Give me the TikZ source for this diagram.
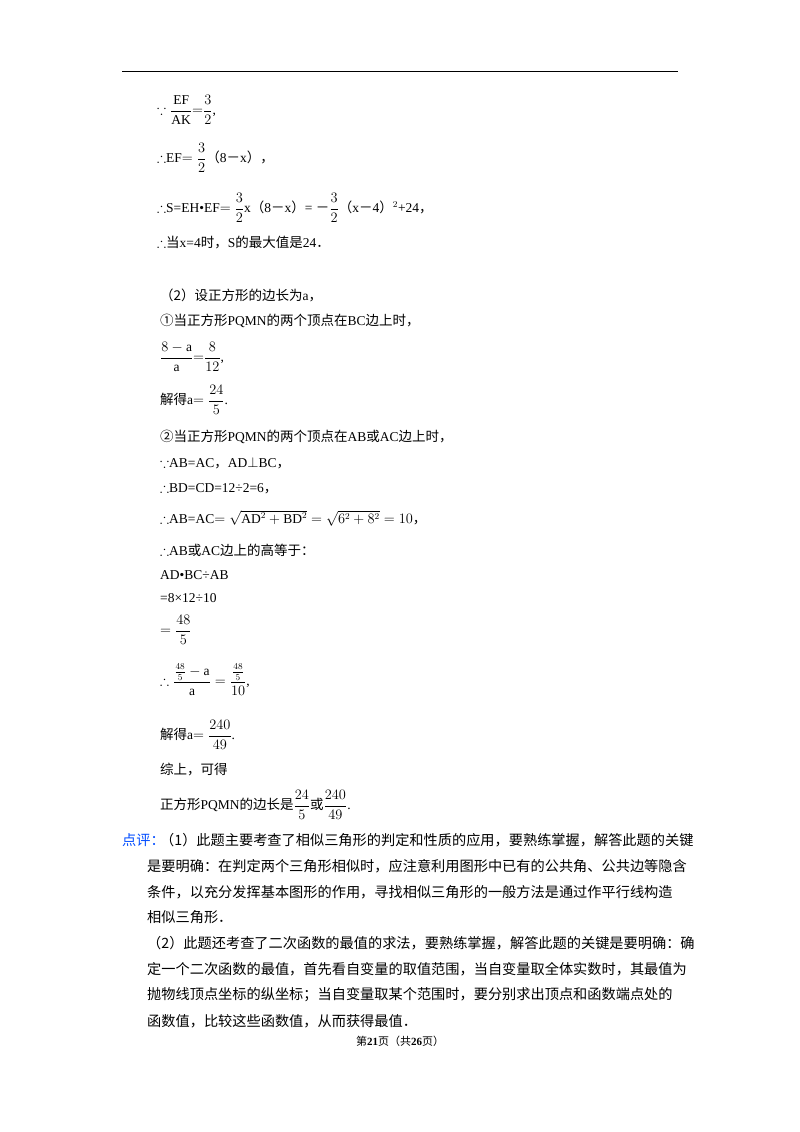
\documentclass[tikz,border=0pt]{standalone}
\usepackage{amsmath,amssymb}
\usepackage{fontspec}
\setmainfont{Liberation Serif}
\newfontfamily\cjk{Noto Sans CJK SC}
\newcommand{\zh}[1]{{\cjk #1}}
\begin{document}
\begin{tikzpicture}[x=1pt,y=-1pt,
  ln/.style={anchor=west,inner sep=0pt,font=\fontsize{13.5}{16}\selectfont},
  pl/.style={anchor=west,inner sep=0pt,font=\fontsize{14.2}{16}\cjk}]
\useasboundingbox (0,0) rectangle (800,1132);
\fill[white] (0,0) rectangle (800,1132);
\draw[line width=1pt] (122,72) -- (678,72);
\node[ln] (l1) at (157,110) {$\because\dfrac{\mathrm{EF}}{\mathrm{AK}}{=}\dfrac{3}{2}$,};
\node[ln] (l2) at (157,158) {$\therefore$EF$=\dfrac{3}{2}$\zh{（}8\zh{－}x\zh{），}};
\node[ln] (l3) at (157,208) {$\therefore$S=EH•EF$=\dfrac{3}{2}$x\zh{（}8\zh{－}x\zh{）}= \zh{－}$\dfrac{3}{2}$\zh{（}x\zh{－}4\zh{）}$^{2}$+24\zh{，}};
\node[ln] (l4) at (157,243) {$\therefore$\zh{当}x=4\zh{时，}S\zh{的最大值是}24\zh{．}};
\node[ln] (l5) at (160,295) {\zh{（2）设正方形的边长为}a\zh{，}};
\node[ln] (l6) at (160,321) {\zh{①当正方形}PQMN\zh{的两个顶点在}BC\zh{边上时，}};
\node[ln] (l7) at (160,357) {$\dfrac{8-\mathrm{a}}{\mathrm{a}}{=}\dfrac{8}{12}$,};
\node[ln] (l8) at (160,400) {\zh{解得}a$=\dfrac{24}{5}$.};
\node[ln] (l9) at (160,437) {\zh{②当正方形}PQMN\zh{的两个顶点在}AB\zh{或}AC\zh{边上时，}};
\node[ln] (l10) at (160,463) {$\because$AB=AC\zh{，}AD$\perp$BC\zh{，}};
\node[ln] (l11) at (160,489) {$\therefore$BD=CD=12÷2=6\zh{，}};
\node[ln] (l12) at (160,518) {$\therefore$AB=AC$=\sqrt{\mathrm{AD}^2+\mathrm{BD}^2}=\sqrt{6^2+8^2}=10$\zh{，}};
\node[ln] (l13) at (160,550) {$\therefore$AB\zh{或}AC\zh{边上的高等于：}};
\node[ln] (l14) at (160,575) {AD•BC÷AB};
\node[ln] (l15) at (160,598) {=8×12÷10};
\node[ln] (l16) at (160,630) {$=\dfrac{48}{5}$};
\node[ln] (l17) at (160,680) {$\therefore\dfrac{\frac{48}{5}-\mathrm{a}}{\mathrm{a}}=\dfrac{\frac{48}{5}}{10}$,};
\node[ln] (l18) at (160,735) {\zh{解得}a$=\dfrac{240}{49}$.};
\node[ln] (l19) at (160,770) {\zh{综上，可得}};
\node[ln] (l20) at (160,805) {\zh{正方形}PQMN\zh{的边长是}$\dfrac{24}{5}$\zh{或}$\dfrac{240}{49}$.};
\node[pl,text=blue!70!cyan] (pp) at (122,840) {点评：};
\node[pl] (a1) at (160,840) {（1）此题主要考查了相似三角形的判定和性质的应用，要熟练掌握，解答此题的关键};
\node[pl] (a2) at (147,866) {是要明确：在判定两个三角形相似时，应注意利用图形中已有的公共角、公共边等隐含};
\node[pl] (a3) at (147,892) {条件，以充分发挥基本图形的作用，寻找相似三角形的一般方法是通过作平行线构造};
\node[pl] (a4) at (147,917) {相似三角形．};
\node[pl] (b1) at (147,943) {（2）此题还考查了二次函数的最值的求法，要熟练掌握，解答此题的关键是要明确：确};
\node[pl] (b2) at (147,969) {定一个二次函数的最值，首先看自变量的取值范围，当自变量取全体实数时，其最值为};
\node[pl] (b3) at (147,995) {抛物线顶点坐标的纵坐标；当自变量取某个范围时，要分别求出顶点和函数端点处的};
\node[pl] (b4) at (147,1021) {函数值，比较这些函数值，从而获得最值．};
\node[inner sep=0pt,font=\fontsize{11}{13}\selectfont] (ft) at (400,1041) {\zh{第}\textbf{21}\zh{页（共}\textbf{26}\zh{页）}};
\end{tikzpicture}
\end{document}
